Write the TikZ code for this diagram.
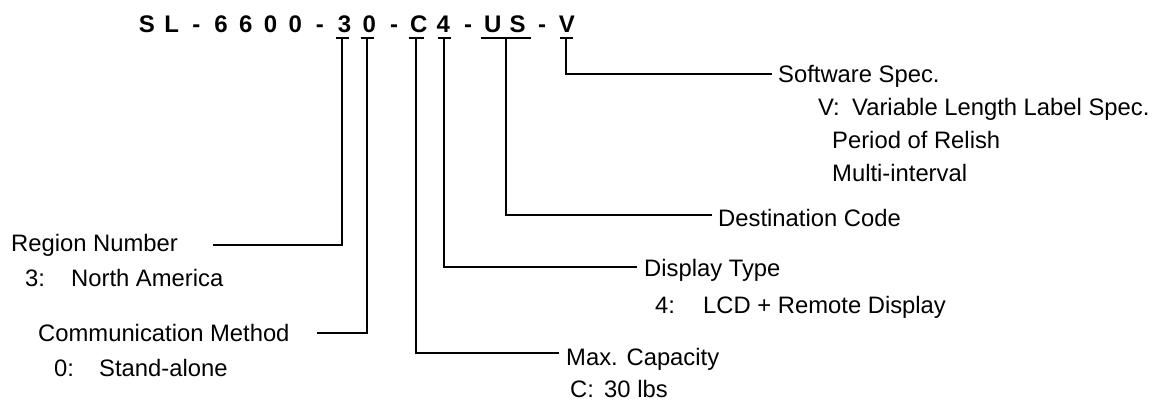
\documentclass[tikz,border=0pt]{standalone}
\usepackage{fontspec}
\setmainfont{Liberation Sans}
\begin{document}
\begin{tikzpicture}[x=1pt,y=-1pt,
  code/.style={font=\fontsize{24}{24}\selectfont\bfseries, inner sep=0, anchor=base},
  lbl/.style={font=\fontsize{23.8}{26}\selectfont, inner sep=0, anchor=base west},
  conn/.style={line width=2.4pt},
  bar/.style={line width=2.6pt}]
\useasboundingbox (0,0) rectangle (1155,400);
% code characters
\foreach \ch [count=\i from 0] in {S,L,-,6,6,0,0,-,3,0,-,C,4,-,U,S,-,V}
  \node[code] (k\i) at (147+24.7*\i,32) {\ch};
% bar tops of the stems
\coordinate (t3) at (342,38);
\coordinate (t0) at (367,38);
\coordinate (tC) at (416,38);
\coordinate (t4) at (444,38);
\coordinate (tU) at (506,38);
\coordinate (tV) at (566,38);
% underline bars
\draw[bar] ([xshift=-6.5pt]t3) -- ([xshift=6.5pt]t3);
\draw[bar] ([xshift=-6.5pt]t0) -- ([xshift=6.5pt]t0);
\draw[bar] ([xshift=-7.5pt]tC) -- ([xshift=7.5pt]tC);
\draw[bar] ([xshift=-6.5pt]t4) -- ([xshift=6.5pt]t4);
\draw[bar] ([xshift=-25pt]tU) -- ([xshift=25pt]tU);
\draw[bar] ([xshift=-6.5pt]tV) -- ([xshift=6.5pt]tV);
% labels
\node[lbl] (reg) at (11,251) {Region Number};
\node[lbl] (reg3) at (25,286) {3:};
\node[lbl] (regv) at (71,286) {North America};
\node[lbl] (com) at (38,341) {Communication Method};
\node[lbl] (com0) at (54,376) {0:};
\node[lbl] (comv) at (99,376) {Stand-alone};
\node[lbl] (cap) at (566,365) {Max. Capacity};
\node[lbl] (capC) at (570,397) {C:};
\node[lbl] (capv) at (604,397) {30 lbs};
\node[lbl] (dsp) at (644,276) {Display Type};
\node[lbl] (dsp4) at (655,313) {4:};
\node[lbl] (dspv) at (703,313) {LCD + Remote Display};
\node[lbl] (dst) at (718,226) {Destination Code};
\node[lbl] (sw) at (778,82) {Software Spec.};
\node[lbl] (swV) at (818,115) {V:};
\node[lbl] (swv1) at (852,115) {Variable Length Label Spec.};
\node[lbl] (swv2) at (832,148) {Period of Relish};
\node[lbl] (swv3) at (832,181) {Multi-interval};
% connector ends
\coordinate (e3) at (213,245);
\coordinate (e0) at (317,333);
\coordinate (eC) at (559,353);
\coordinate (e4) at (637,267);
\coordinate (eU) at (712,215);
\coordinate (eV) at (772,74);
% connectors
\draw[conn] (t3) |- (e3);
\draw[conn] (t0) |- (e0);
\draw[conn] (tC) |- (eC);
\draw[conn] (t4) |- (e4);
\draw[conn] (tU) |- (eU);
\draw[conn] (tV) |- (eV);
\end{tikzpicture}
\end{document}
